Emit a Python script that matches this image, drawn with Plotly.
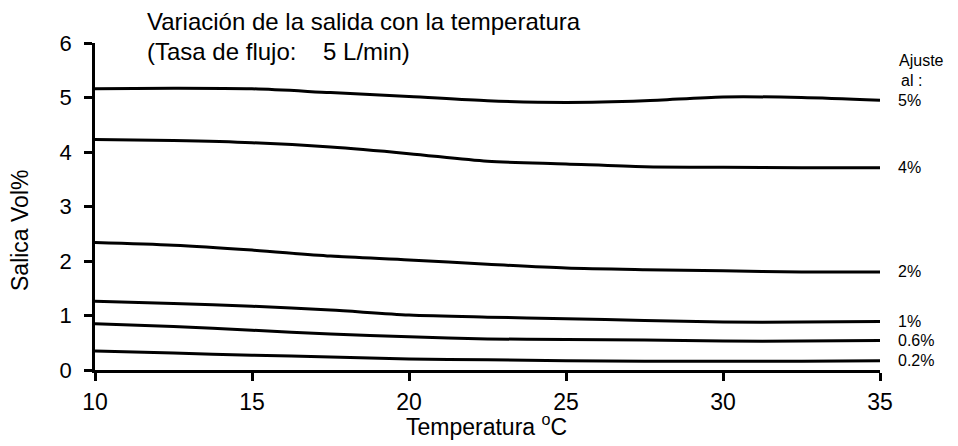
import plotly.graph_objects as go

# ---- data ----
temps = [10, 12.5, 15, 17.5, 20, 22.5, 25, 27.5, 30, 32.5, 35]
out_5 = [5.16, 5.17, 5.16, 5.09, 5.02, 4.94, 4.91, 4.94, 5.01, 5.00, 4.95]
out_4 = [4.23, 4.21, 4.17, 4.09, 3.97, 3.83, 3.78, 3.73, 3.72, 3.71, 3.71]
out_2 = [2.34, 2.29, 2.20, 2.09, 2.02, 1.94, 1.87, 1.84, 1.82, 1.80, 1.80]
out_1 = [1.26, 1.22, 1.17, 1.10, 1.01, 0.97, 0.94, 0.91, 0.88, 0.88, 0.89]
out_06 = [0.85, 0.80, 0.73, 0.66, 0.61, 0.57, 0.56, 0.55, 0.53, 0.53, 0.54]
out_02 = [0.35, 0.31, 0.27, 0.24, 0.20, 0.19, 0.17, 0.16, 0.16, 0.16, 0.17]
series = [out_5, out_4, out_2, out_1, out_06, out_02]
series_labels = ["5%", "4%", "2%", "1%", "0.6%", "0.2%"]
x_ticks = [10, 15, 20, 25, 30, 35]
y_ticks = [0, 1, 2, 3, 4, 5, 6]

title_1 = "Variación de la salida con la temperatura"
title_2 = "(Tasa de flujo:\u00a0\u00a0\u00a0 5 L/min)"
x_title = "Temperatura <sup>o</sup>C"
y_title = "Salica Vol%"
legend_head = ["Ajuste", "al :"]

# ---- layout geometry (page has an 8px body margin) ----
OFF = 8
W, H = 958 - OFF, 446 - OFF
L, T = 95 - OFF, 43 - OFF
R = W - (880 - OFF)
B = H - (370 - OFF)
PW, PH = W - L - R, H - T - B
FONT = "Liberation Sans, Arial, sans-serif"


def px(x):
    return (x - OFF - L) / PW


def py(y):
    return (H - B - (y - OFF)) / PH


fig = go.Figure()
for vals in series:
    fig.add_trace(go.Scatter(
        x=temps, y=vals, mode="lines",
        line=dict(color="black", width=3, shape="spline", smoothing=0.8),
        showlegend=False, hoverinfo="skip"))

annotations = []
for vals, lab in zip(series, series_labels):
    annotations.append(dict(
        x=temps[-1], y=vals[-1], xref="x", yref="y", text=lab,
        showarrow=False, xanchor="left", yanchor="middle", xshift=16,
        font=dict(family=FONT, size=16, color="black")))

annotations += [
    dict(x=px(897), y=py(60), xref="paper", yref="paper", text=legend_head[0],
         showarrow=False, xanchor="left", yanchor="middle",
         font=dict(family=FONT, size=16, color="black")),
    dict(x=px(899), y=py(80), xref="paper", yref="paper", text=legend_head[1],
         showarrow=False, xanchor="left", yanchor="middle",
         font=dict(family=FONT, size=16, color="black")),
    dict(x=px(145), y=py(22), xref="paper", yref="paper", text=title_1,
         showarrow=False, xanchor="left", yanchor="middle",
         font=dict(family=FONT, size=24, color="black")),
    dict(x=px(145), y=py(52), xref="paper", yref="paper", text=title_2,
         showarrow=False, xanchor="left", yanchor="middle",
         font=dict(family=FONT, size=24, color="black")),
    dict(x=px(486), y=py(425), xref="paper", yref="paper", text=x_title,
         showarrow=False, xanchor="center", yanchor="middle",
         font=dict(family=FONT, size=23, color="black")),
    dict(x=px(20), y=py(231), xref="paper", yref="paper", text=y_title,
         showarrow=False, xanchor="center", yanchor="middle", textangle=-90,
         font=dict(family=FONT, size=23, color="black")),
]

fig.update_layout(
    width=W, height=H, autosize=False,
    margin=dict(l=L, r=R, t=T, b=B, pad=0),
    paper_bgcolor="white", plot_bgcolor="white",
    font=dict(family=FONT, color="black"),
    annotations=annotations,
    xaxis=dict(range=[10, 35], tickvals=x_ticks, ticktext=[str(v) for v in x_ticks],
               showgrid=False, zeroline=False, showline=True, linecolor="black",
               linewidth=2.5, ticks="outside", ticklen=8, tickwidth=2.5,
               tickcolor="black", tickfont=dict(size=23, family=FONT),
               ticklabelstandoff=2),
    yaxis=dict(range=[0, 6], tickvals=y_ticks, ticktext=[str(v) for v in y_ticks],
               showgrid=False, zeroline=False, showline=True, linecolor="black",
               linewidth=2.5, ticks="outside", ticklen=8, tickwidth=2.5,
               tickcolor="black", tickfont=dict(size=22, family=FONT),
               ticklabelstandoff=8),
)

fig.write_html("out.html")
